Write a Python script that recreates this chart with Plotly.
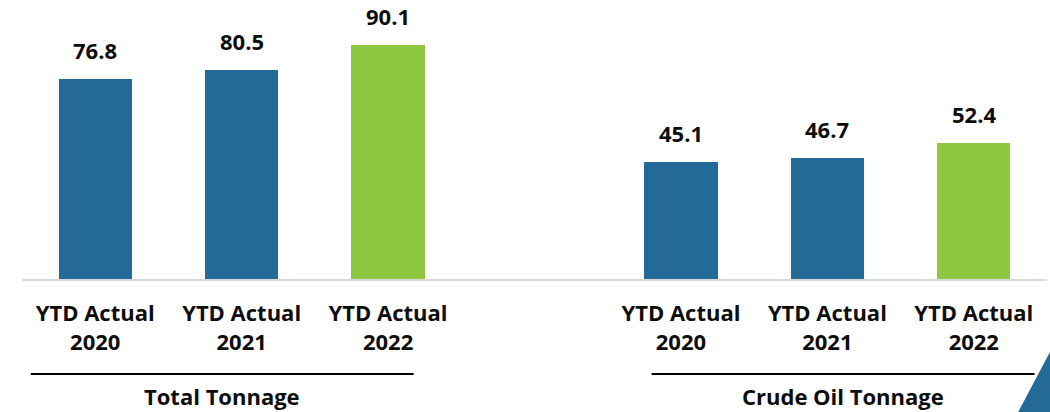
import plotly.graph_objects as go

# Year-to-date tonnage, two groups of three years
years = ["2020", "2021", "2022"]
total_tonnage = [76.8, 80.5, 90.1]
crude_oil_tonnage = [45.1, 46.7, 52.4]
group_names = ["Total Tonnage", "Crude Oil Tonnage"]

BLUE = "#236A99"
GREEN = "#8DC63F"
bar_colors = [BLUE, BLUE, GREEN]
FONT = "Open Sans"
INK = "#0D0D0D"

# Slots 0-2 for the first group, 4-6 for the second (slot 3 is the gap)
x_total = [0, 1, 2]
x_crude = [4, 5, 6]

fig = go.Figure()
for xs, vals in [(x_total, total_tonnage), (x_crude, crude_oil_tonnage)]:
    fig.add_trace(go.Bar(
        x=xs, y=vals, width=0.5,
        marker=dict(color=bar_colors, line=dict(width=0)),
        hoverinfo="skip", showlegend=False,
    ))
    for xv, v in zip(xs, vals):
        fig.add_annotation(
            x=xv, y=v, xref="x", yref="y", text=f"<b>{v:.1f}</b>",
            showarrow=False, yanchor="bottom", yshift=12,
            font=dict(family=FONT, size=22, color=INK),
        )

tick_vals = x_total + x_crude
tick_text = [f"<b>YTD Actual<br>{y}</b>" for y in years] * 2

# Group captions with rules above them
groups = [(-0.44, 2.175, group_names[0]), (3.80, 6.415, group_names[1])]
for x0, x1, name in groups:
    fig.add_shape(type="line", xref="x", yref="paper", x0=x0, x1=x1,
                  y0=-0.3405, y1=-0.3405, line=dict(color="#000000", width=2))
    fig.add_annotation(x=(x0 + x1) / 2, y=-0.421, xref="x", yref="paper",
                       text=f"<b>{name}</b>", showarrow=False, yanchor="middle",
                       font=dict(family=FONT, size=22, color=INK))

# Corner accent
fig.add_shape(type="path", xref="paper", yref="paper", layer="above",
              path="M 0.9717 -0.478 L 1.0029 -0.262 L 1.0029 -0.478 Z",
              fillcolor=BLUE, line=dict(width=0))

fig.update_layout(
    width=1050, height=412,
    margin=dict(l=22, r=3, t=0, b=133),
    paper_bgcolor="white", plot_bgcolor="white",
    bargap=0,
    xaxis=dict(range=[-0.5, 6.5], tickmode="array", tickvals=tick_vals,
               ticktext=tick_text, showgrid=False, zeroline=False,
               showline=True, linecolor="#D9D9D9", linewidth=2, ticks="",
               tickfont=dict(family=FONT, size=22, color=INK),
               ticklabelstandoff=14),
    yaxis=dict(range=[0, 107.3], visible=False, showgrid=False, zeroline=False),
)

fig.write_html("out.html")
